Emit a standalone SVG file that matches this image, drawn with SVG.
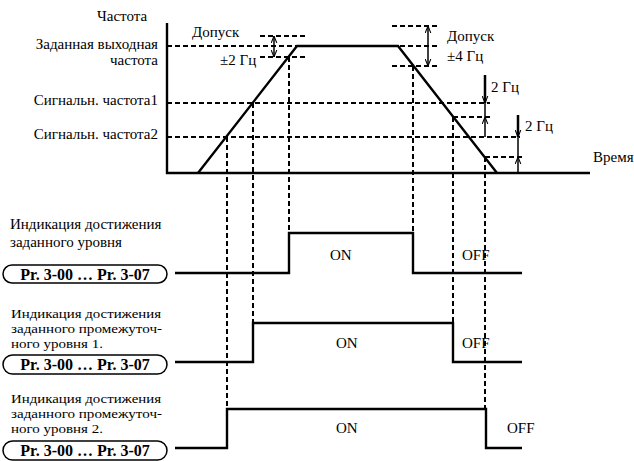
<svg xmlns="http://www.w3.org/2000/svg" width="634" height="461" viewBox="0 0 634 461">
<style>
text{font-family:"Liberation Serif","Times New Roman",serif;font-size:15px;fill:#000}
.e{text-anchor:end}
.m{text-anchor:middle}
.b{font-weight:bold;font-size:16px}
.c{font-size:13.5px}
.sol{fill:none;stroke:#000;stroke-width:2.4}
.dsh{fill:none;stroke:#000;stroke-width:2;stroke-dasharray:5 3}
.thin{fill:none;stroke:#000;stroke-width:1.5}
.thk{fill:none;stroke:#000;stroke-width:2.5}
.pill{fill:#fff;stroke:#000;stroke-width:1.5}
</style>
<defs>
<marker id="ah" viewBox="0 0 10 10" refX="10" refY="5" markerWidth="7" markerHeight="7" markerUnits="userSpaceOnUse" orient="auto-start-reverse">
<path d="M0,1 L10,5 L0,9" fill="none" stroke="#000" stroke-width="1.5"/>
</marker>
</defs>
<rect width="634" height="461" fill="#fff"/>

<g id="chart">
<path class="sol" d="M167,23 V173 H590"/>
<path class="sol" d="M198,173 L297,46 H398 L497,173"/>
<text x="97" y="21">Частота</text>
<text x="192" y="37">Допуск</text>
<text x="158" y="49" class="e">Заданная выходная</text>
<text x="158" y="65" class="e">частота</text>
<text x="220" y="65">±2 Гц</text>
<text x="158" y="105" class="e">Сигнальн. частота1</text>
<text x="158" y="139" class="e">Сигнальн. частота2</text>
<text x="447" y="41">Допуск</text>
<text x="447" y="61">±4 Гц</text>
<text x="491" y="92">2 Гц</text>
<text x="525" y="131">2 Гц</text>
<text x="593" y="162">Время</text>
</g>

<g id="connectors">
<path class="dsh" d="M167,46 H296 M260,36 H305 M260,57 H305 M400,46 H440 M392,26 H440 M392,66 H440 M167,103 H490 M167,137 H520 M453,117 H490 M485,157 H523"/>
<path class="dsh" d="M227,137 V409 M253,103 V323 M289,57 V233 M413,66 V233 M453,117 V323 M485,157 V409"/>
<line class="thin" x1="274" y1="36" x2="274" y2="57" marker-start="url(#ah)" marker-end="url(#ah)"/>
<line class="thin" x1="428" y1="26" x2="428" y2="66" marker-start="url(#ah)" marker-end="url(#ah)"/>
<line class="thk" x1="485" y1="75" x2="485" y2="103" marker-end="url(#ah)"/>
<line class="thin" x1="485" y1="137" x2="485" y2="117" marker-end="url(#ah)"/>
<line class="thin" x1="485" y1="103" x2="485" y2="117"/>
<line class="thk" x1="518" y1="115" x2="518" y2="137" marker-end="url(#ah)"/>
<line class="thin" x1="518" y1="173" x2="518" y2="157" marker-end="url(#ah)"/>
<line class="thin" x1="518" y1="137" x2="518" y2="157"/>
</g>

<g id="signal1">
<text x="10" y="229">Индикация достижения</text>
<text x="10" y="247">заданного уровня</text>
<rect class="pill" x="3" y="265" width="164" height="18" rx="9"/>
<text x="85" y="280" class="m b">Pr. 3-00 … Pr. 3-07</text>
<path class="sol" d="M175,273 H289 V233 H413 V273 H522"/>
<text x="330" y="260">ON</text>
<text x="462" y="260">OFF</text>
</g>

<g id="signal2">
<text x="11" y="318" class="c" textLength="150" lengthAdjust="spacingAndGlyphs">Индикация достижения</text>
<text x="11" y="333" class="c" textLength="151" lengthAdjust="spacingAndGlyphs">заданного промежуточ-</text>
<text x="11" y="348" class="c" textLength="92" lengthAdjust="spacingAndGlyphs">ного  уровня 1.</text>
<rect class="pill" x="3" y="355" width="164" height="19" rx="9.5"/>
<text x="85" y="370" class="m b">Pr. 3-00 … Pr. 3-07</text>
<path class="sol" d="M175,362 H253 V323 H453 V362 H522"/>
<text x="336" y="348">ON</text>
<text x="462" y="348">OFF</text>
</g>

<g id="signal3">
<text x="11" y="403" class="c" textLength="150" lengthAdjust="spacingAndGlyphs">Индикация достижения</text>
<text x="11" y="418" class="c" textLength="151" lengthAdjust="spacingAndGlyphs">заданного промежуточ-</text>
<text x="11" y="433" class="c" textLength="92" lengthAdjust="spacingAndGlyphs">ного  уровня 2.</text>
<rect class="pill" x="3" y="441" width="164" height="19" rx="9.5"/>
<text x="85" y="456" class="m b">Pr. 3-00 … Pr. 3-07</text>
<path class="sol" d="M175,448 H227 V409 H486 V448 H522"/>
<text x="336" y="433">ON</text>
<text x="507" y="433">OFF</text>
</g>
</svg>
